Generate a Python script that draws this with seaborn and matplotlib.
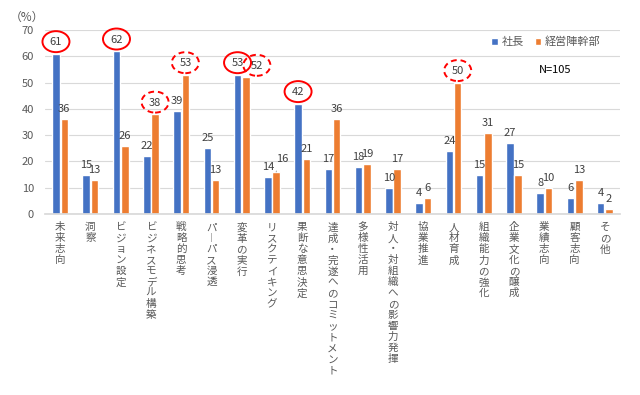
import matplotlib
matplotlib.use("Agg")
import matplotlib.pyplot as plt
from matplotlib.patches import Ellipse
from matplotlib.transforms import IdentityTransform
import pandas as pd
import seaborn as sns

categories = ["未来志向", "洞察", "ビジョン設定", "ビジネスモデル構築", "戦略的思考",
              "パーパス浸透", "変革の実行", "リスクテイキング", "果断な意思決定",
              "達成・完遂へのコミットメント", "多様性活用", "対人・対組織への影響力発揮",
              "協業推進", "人材育成", "組織能力の強化", "企業文化の醸成", "業績志向",
              "顧客志向", "その他"]
president = [61, 15, 62, 22, 39, 25, 53, 14, 42, 17, 18, 10, 4, 24, 15, 27, 8, 6, 4]
executives = [36, 13, 26, 38, 53, 13, 52, 16, 21, 36, 19, 17, 6, 50, 31, 15, 10, 13, 2]
series_names = ["社長", "経営陣幹部"]
y_ticks = [0, 10, 20, 30, 40, 50, 60, 70]
unit_label = "（%）"
n_label = "N=105"
solid_marks = [("未来志向", "社長"), ("ビジョン設定", "社長"),
               ("変革の実行", "社長"), ("果断な意思決定", "社長")]
dashed_marks = [("ビジネスモデル構築", "経営陣幹部"), ("戦略的思考", "経営陣幹部"),
                ("変革の実行", "経営陣幹部"), ("人材育成", "経営陣幹部")]
# label shifts in pixels (dx, extra dy) for a few crowded labels
label_shift = {("変革の実行", "経営陣幹部"): (11, 0),
               ("リスクテイキング", "経営陣幹部"): (6, 3)}
leader_lines = [("リスクテイキング", "経営陣幹部")]

df = pd.DataFrame({
    "category": categories + categories,
    "series": [series_names[0]] * len(categories) + [series_names[1]] * len(categories),
    "value": president + executives,
})

sns.set_theme(style="white")
plt.rcParams["font.family"] = ["Noto Sans CJK JP", "DejaVu Sans"]

DPI = 100
fig = plt.figure(figsize=(6.4, 3.95), dpi=DPI)
ax = fig.add_axes([45 / 640, 1 - 214 / 395, 575 / 640, 184 / 395])

sns.barplot(data=df, x="category", y="value", hue="series", order=categories,
            hue_order=series_names, palette=["#4472C4", "#ED7D31"], saturation=1,
            width=0.55, gap=0.1, ax=ax, legend=True)

ax.set_ylim(0, 70)
ax.set_yticks(y_ticks)
ax.set_xlim(-0.5, len(categories) - 0.5)
ax.set_xlabel("")
ax.set_ylabel("")
ax.yaxis.grid(True, color="#D9D9D9", lw=0.8)
ax.set_axisbelow(True)
for s in ["left", "right", "top"]:
    ax.spines[s].set_visible(False)
ax.spines["bottom"].set_color("#D9D9D9")
ax.tick_params(axis="both", length=0, labelsize=8, labelcolor="#595959")
ax.tick_params(axis="y", pad=8)
ax.tick_params(axis="x", pad=6, labelsize=7.6)
ax.set_xticks(range(len(categories)))
vert = [c.replace("ー", "︱") for c in categories]
ax.set_xticklabels(["\n".join(c) for c in vert], linespacing=1.12, va="top")

px2pt = 72 / DPI
solid_set = set(solid_marks)
dashed_set = set(dashed_marks)
for s_idx, cont in enumerate(ax.containers):
    sname = series_names[s_idx]
    for c_idx, bar in enumerate(cont):
        v = bar.get_height()
        key = (categories[c_idx], sname)
        marked = key in solid_set or key in dashed_set
        dx, dy = label_shift.get(key, (0, 0))
        up = (11.5 if marked else 10) + dy
        bx = bar.get_x() + bar.get_width() / 2
        arrow = None
        if key in leader_lines:
            arrow = dict(arrowstyle="-", color="#A6A6A6", lw=0.7,
                         shrinkA=3, shrinkB=1)
        ax.annotate(f"{int(v)}", xy=(bx, v),
                    xytext=(dx * px2pt, up * px2pt), textcoords="offset points",
                    ha="center", va="center", fontsize=8, color="#404040",
                    annotation_clip=False, arrowprops=arrow)
        if marked:
            cx, cy = ax.transData.transform((bx, v))
            ell = Ellipse((cx + dx, cy + up + 0.5), 27, 21, fill=False,
                          ec="#FF0000", lw=1.4, transform=IdentityTransform(),
                          ls="-" if key in solid_set else (0, (3, 2)))
            fig.add_artist(ell)

handles, labels = ax.get_legend_handles_labels()
ax.legend(handles, labels, ncol=2, frameon=False, loc="center",
          bbox_to_anchor=(0.871, 0.935), handlelength=0.6, handleheight=0.6,
          handletextpad=0.3, columnspacing=1.0, fontsize=8, labelcolor="#595959")

ax.text(0.887, 0.783, n_label, transform=ax.transAxes, ha="center", va="center",
        fontsize=8, color="black",
        bbox=dict(boxstyle="square,pad=0.6", fc="white", ec="none"))

fig.text(27 / 640, 1 - 17 / 395, unit_label, ha="center", va="center",
         fontsize=8.5, color="#595959")

fig.savefig("out.png", dpi=DPI)
